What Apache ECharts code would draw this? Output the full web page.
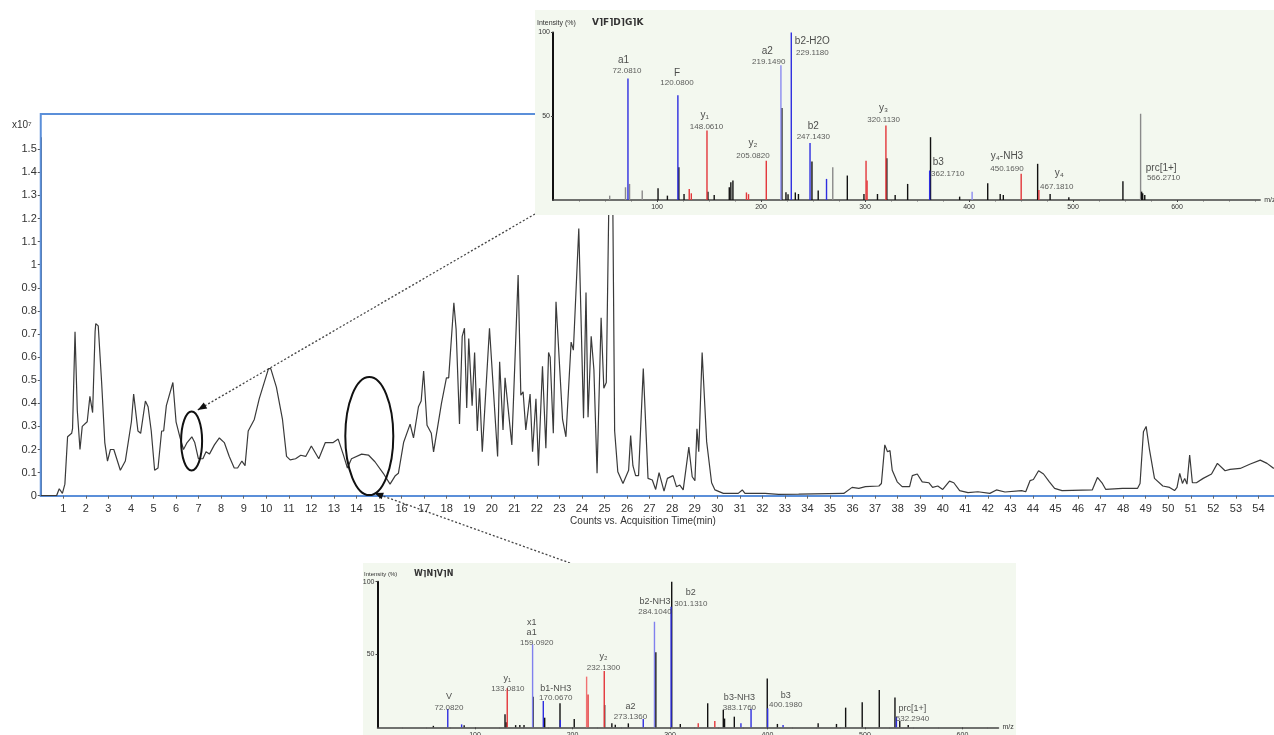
<!DOCTYPE html>
<html><head><meta charset="utf-8">
<script src="https://cdn.jsdelivr.net/npm/echarts@6/dist/echarts.min.js"></script>
<style>html,body{margin:0;padding:0;background:#fff}#c{width:1274px;height:735px}</style>
</head><body><div id="c"></div>
<script>
// ---------- main chromatogram (x10^7 counts vs minutes) ----------
const retentionTime = [0.00,0.70,0.82,0.96,1.07,1.19,1.37,1.41,1.52,1.62,1.74,1.84,2.06,2.18,2.30,2.41,2.44,2.55,2.70,2.84,2.96,3.09,3.24,3.53,3.75,4.02,4.12,4.20,4.31,4.43,4.64,4.76,4.90,5.05,5.20,5.36,5.45,5.57,5.86,6.00,6.18,6.33,6.49,6.70,6.83,6.99,7.19,7.33,7.48,7.70,7.92,8.14,8.36,8.58,8.73,8.92,9.06,9.20,9.47,9.69,10.10,10.20,10.45,10.72,10.90,11.06,11.30,11.53,11.75,12.00,12.33,12.62,12.97,13.19,13.41,13.60,13.78,14.23,14.53,14.82,15.19,15.49,15.71,15.86,16.09,16.38,16.53,16.75,16.87,16.98,17.13,17.32,17.42,17.77,17.99,18.09,18.32,18.42,18.57,18.69,18.79,18.89,18.98,19.13,19.24,19.36,19.46,19.58,19.90,20.26,20.35,20.50,20.59,20.89,21.17,21.29,21.39,21.51,21.70,21.81,21.96,22.07,22.25,22.40,22.52,22.59,22.73,22.85,23.14,23.29,23.52,23.62,23.86,24.07,24.18,24.27,24.41,24.53,24.67,24.85,24.97,25.08,25.19,25.28,25.37,25.45,25.59,25.82,26.07,26.16,26.26,26.38,26.51,26.72,26.93,27.12,27.27,27.42,27.49,27.64,27.79,28.04,28.19,28.34,28.49,28.74,28.89,29.01,29.10,29.18,29.33,29.53,29.75,29.90,30.27,30.93,31.11,31.23,32.12,32.72,33.61,35.61,35.98,36.28,36.57,37.17,37.28,37.43,37.55,37.66,37.76,37.98,38.20,38.53,38.65,38.87,39.09,39.39,39.55,39.78,40.00,40.30,40.49,40.75,41.12,41.56,42.09,42.38,42.76,43.50,43.68,43.87,44.02,44.25,44.47,44.72,44.96,45.29,46.63,46.86,47.08,47.23,47.97,48.64,48.75,48.90,49.02,49.17,49.39,49.76,50.06,50.28,50.39,50.51,50.63,50.73,50.83,50.95,51.07,51.25,51.55,51.92,52.18,52.52,52.74,53.19,53.64,54.08,54.38,54.68];
const intensity = [0.000,0.000,0.030,0.010,0.050,0.255,0.270,0.290,0.710,0.370,0.200,0.300,0.320,0.430,0.360,0.710,0.745,0.735,0.490,0.230,0.150,0.200,0.200,0.110,0.150,0.320,0.440,0.440,0.280,0.270,0.410,0.385,0.280,0.110,0.120,0.280,0.280,0.390,0.490,0.320,0.250,0.200,0.230,0.255,0.230,0.160,0.160,0.190,0.180,0.220,0.250,0.230,0.170,0.120,0.120,0.150,0.130,0.280,0.330,0.420,0.550,0.550,0.470,0.330,0.170,0.155,0.160,0.175,0.170,0.215,0.160,0.230,0.230,0.245,0.180,0.120,0.160,0.180,0.176,0.147,0.097,0.050,0.085,0.097,0.230,0.310,0.250,0.385,0.410,0.540,0.305,0.270,0.190,0.400,0.510,0.510,0.835,0.720,0.310,0.690,0.725,0.380,0.680,0.390,0.620,0.280,0.465,0.190,0.725,0.170,0.580,0.285,0.510,0.220,0.955,0.435,0.450,0.285,0.440,0.190,0.420,0.130,0.560,0.205,0.620,0.600,0.270,0.840,0.330,0.255,0.665,0.630,1.157,0.335,0.880,0.340,0.690,0.545,0.097,0.770,0.465,0.490,1.250,1.520,1.250,0.280,0.104,0.053,0.110,0.260,0.130,0.087,0.087,0.550,0.075,0.068,0.027,0.100,0.097,0.020,0.075,0.087,0.039,0.046,0.025,0.210,0.082,0.065,0.290,0.190,0.620,0.234,0.056,0.025,0.010,0.010,0.025,0.010,0.010,0.006,0.007,0.010,0.036,0.032,0.039,0.042,0.053,0.220,0.190,0.195,0.110,0.060,0.039,0.039,0.087,0.094,0.060,0.056,0.036,0.042,0.027,0.063,0.056,0.022,0.013,0.017,0.010,0.025,0.016,0.022,0.017,0.065,0.070,0.108,0.094,0.061,0.032,0.022,0.025,0.079,0.053,0.027,0.032,0.032,0.053,0.277,0.300,0.198,0.075,0.042,0.036,0.022,0.036,0.097,0.053,0.075,0.050,0.176,0.056,0.056,0.075,0.094,0.140,0.108,0.114,0.118,0.137,0.154,0.140,0.118];
const mainYTicks = [0,0.1,0.2,0.3,0.4,0.5,0.6,0.7,0.8,0.9,1,1.1,1.2,1.3,1.4,1.5];

// ---------- top inset spectrum (VFDGK) ----------
const topBlueMz   = [72.08,120.08,229.118,247.143,263,362.171];
const topBluePct  = [72.5,62.5,100,34,12.6,17.6];
const topLavMz    = [219.149,403];
const topLavPct   = [80.4,5];
const topRedMz    = [131,133,148.061,186,188,205.082,301,302,320.113,450.169,467.181];
const topRedPct   = [6.6,4,41.5,4.5,3.5,23.5,23.5,11.6,44.5,15.6,6];
const topBlackMz  = [101,110,121,126,149,155,169.5,171,173,220.1,224,226,233,236,249,255,283,299,312,321,329,341,363,391,418,430,433,466,478,496,548,566,567,569];
const topBlackPct = [7,2.6,19.6,3.6,5,3,7.6,10.6,11.6,55,4.6,3.5,4.5,3.6,23,5.6,14.6,3.6,3.6,25,3,9.6,37.5,2,10,3.6,3,21.6,3.6,1.6,11.2,5,4,3];
const topGrayMz   = [54.5,69.7,73.6,85.8,269,565];
const topGrayPct  = [2.6,7.6,9.6,5.6,19.6,51.5];
const topIonText  = ['a1','F','y₁','y₂','a2','b2-H2O','b2','y₃','b3','y₄-NH3','y₄','prc[1+]'];
const topIonMz    = [67.8,119.2,145.9,192.3,206.1,249.4,250.3,317.9,370.4,436.5,486.7,584.8];
const topIonPct   = [83.6,75.8,50.7,34.0,89.1,94.5,43.8,54.7,22.3,25.9,15.9,18.9];
const topValText  = ['72.0810','120.0800','148.0610','205.0820','219.1490','229.1180','247.1430','320.1130','362.1710','450.1690','467.1810','566.2710'];
const topValMz    = [71.2,119.2,147.6,192.3,207.4,249.4,250.3,317.9,379.5,436.5,484.4,587.1];
const topValPct   = [77.0,69.7,43.6,26.3,82.6,87.9,37.8,47.8,15.9,18.9,7.9,13.0];

// ---------- bottom inset spectrum (WNVN) ----------
const botBlueMz   = [72.082,86.3,170.067,187.5,272.6,301.131,372.8,383.176,400.198,416,532.294];
const botBluePct  = [12.6,2,18,5,5.7,82.8,2.7,12.6,13,1.5,7];
const botLavMz    = [159.092,284.104];
const botLavPct   = [57,72.5];
const botRedMz    = [133.081,216,232.6,329,346];
const botRedPct   = [26.8,22.6,38.7,2.7,4.3];
const botPinkMz   = [214.5];
const botPinkPct  = [34.8];
const botBlackMz  = [57.3,88.9,130.8,132,141.7,146,150.3,159.6,171.5,187.2,201.8,233,240.4,243.9,257.3,285.5,301.8,310.6,338.7,354.7,356,366,399.8,410.2,452,470.8,480.2,497.2,514.7,530.8,535.7,544.4];
const botBlackPct = [1,1.4,8.9,3.5,1.5,1.5,1.5,21,6.6,16.5,5.7,15.3,2.7,1.8,2.7,51.5,100,2.3,16.5,12,6,7.3,33.6,2.3,2.7,2.3,13.5,17.2,25.6,20.4,4.5,1.6];
const botIonText  = ['V','y₁','x1','a1','b1-NH3','y₂','a2','b2-NH3','b2','b3-NH3','b3','prc[1+]'];
const botIonMz    = [73.3,133.0,158.1,158.1,182.8,231.8,259.5,284.6,321.4,371.2,418.8,548.7];
const botIonPct   = [21.0,33.8,71.9,65.1,26.3,48.4,14.2,86.3,92.5,20.5,21.7,12.6];
const botValText  = ['72.0820','133.0810','159.0920','170.0670','232.1300','273.1360','284.1040','301.1310','383.1760','400.1980','532.2940'];
const botValMz    = [73.3,133.7,163.4,182.8,231.8,259.5,284.6,321.4,371.2,418.8,548.7];
const botValPct   = [13.7,26.3,58.2,20.1,40.7,7.5,79.5,84.9,13.7,15.5,5.8];
const insetTicks  = [100,200,300,400,500,600];

const FONT = 'Liberation Sans, Arial, sans-serif';
const zip = (a, b) => a.map((v, i) => [v, b[i]]);

function bars(mz, pct, color, idx) {
  return { type: 'bar', xAxisIndex: idx, yAxisIndex: idx, data: zip(mz, pct),
    barWidth: 1.4, barGap: '-100%', itemStyle: { color }, zlevel: 1, z: 6, silent: true };
}
function texts(txt, mz, pct, size, color, idx) {
  return { type: 'scatter', xAxisIndex: idx, yAxisIndex: idx, symbolSize: 1,
    itemStyle: { color: 'rgba(0,0,0,0)' }, zlevel: 1, z: 8, silent: true,
    data: txt.map((t, i) => ({ name: t, value: [mz[i], pct[i]] })),
    label: { show: true, position: 'inside', formatter: p => p.name,
      fontSize: size, color, fontFamily: FONT } };
}
function insetX(idx, max) {
  return { type: 'value', gridIndex: idx, min: 0, max, interval: 100, zlevel: 1, z: 5,
    axisLine: { show: true, lineStyle: { color: '#444', width: 1.5 } },
    axisTick: { show: true, length: 2, lineStyle: { color: '#444' }, customValues: insetTicks },
    minorTick: { show: true, splitNumber: 4, length: 1.5, lineStyle: { color: '#666' } },
    axisLabel: { fontSize: 7, color: '#333', margin: 4, fontFamily: FONT, customValues: insetTicks },
    splitLine: { show: false }, minorSplitLine: { show: false },
    name: 'm/z', nameLocation: 'end', nameGap: 4,
    nameTextStyle: { fontSize: 7, color: '#333', fontFamily: FONT, verticalAlign: 'middle' } };
}
function insetY(idx) {
  return { type: 'value', gridIndex: idx, min: 0, max: 100, interval: 50, zlevel: 1, z: 5,
    axisLine: { show: true, lineStyle: { color: '#111', width: 2 } },
    axisTick: { show: true, length: 2, lineStyle: { color: '#444' } },
    axisLabel: { fontSize: 7, color: '#333', margin: 3, fontFamily: FONT, showMinLabel: false },
    splitLine: { show: false } };
}

const chart = echarts.init(document.getElementById('c'), null, { renderer: 'canvas' });
chart.setOption({
  animation: false,
  backgroundColor: '#fff',
  grid: [
    { left: 40.75, right: 0, top: 137.65, bottom: 239.3, outerBoundsMode: 'none' },
    { left: 553, top: 32.5, width: 707.2, height: 167.5, outerBoundsMode: 'none' },
    { left: 377.5, top: 581.7, width: 621, height: 145.6, outerBoundsMode: 'none' }
  ],
  xAxis: [
    { type: 'value', gridIndex: 0, min: 0, max: 54.69, interval: 1, offset: 1,
      axisLine: { show: true, lineStyle: { color: '#5b8fd9', width: 2 } },
      axisTick: { show: true, length: 3, lineStyle: { color: '#666' } },
      axisLabel: { fontSize: 11, color: '#333', margin: 7, fontFamily: FONT, showMinLabel: false, showMaxLabel: false },
      splitLine: { show: false } },
    insetX(1, 680),
    insetX(2, 637)
  ],
  yAxis: [
    { type: 'value', gridIndex: 0, min: 0, max: 1.55, interval: 0.1,
      axisLine: { show: true, lineStyle: { color: '#555', width: 1 } },
      axisTick: { show: true, length: 3, lineStyle: { color: '#555' }, customValues: mainYTicks },
      axisLabel: { fontSize: 11, color: '#333', margin: 4, fontFamily: FONT, customValues: mainYTicks },
      splitLine: { show: false } },
    insetY(1),
    insetY(2)
  ],
  series: [
    { type: 'line', xAxisIndex: 0, yAxisIndex: 0, data: zip(retentionTime, intensity),
      symbol: 'none', lineStyle: { color: '#3a3a3a', width: 1.2 }, silent: true, z: 2 },
    bars(topGrayMz, topGrayPct, '#8a8a8a', 1),
    bars(topBlackMz, topBlackPct, '#111111', 1),
    bars(topLavMz, topLavPct, '#8c8cf0', 1),
    bars(topRedMz, topRedPct, '#e3363a', 1),
    bars(topBlueMz, topBluePct, '#2e2ee0', 1),
    texts(topIonText, topIonMz, topIonPct, 10, '#222', 1),
    texts(topValText, topValMz, topValPct, 8, '#333', 1),
    bars(botBlackMz, botBlackPct, '#111111', 2),
    bars(botPinkMz, botPinkPct, '#f07272', 2),
    bars(botRedMz, botRedPct, '#e3363a', 2),
    bars(botLavMz, botLavPct, '#8080ee', 2),
    bars(botBlueMz, botBluePct, '#2e2ee0', 2),
    texts(botIonText, botIonMz, botIonPct, 9, '#222', 2),
    texts(botValText, botValMz, botValPct, 8, '#333', 2)
  ]
});

// annotation shapes anchored to data coordinates
const px = (t, v) => chart.convertToPixel({ gridIndex: 0 }, [t, v]);
const e1 = px(6.69, 0.237), e2 = px(14.57, 0.258);
const tip1 = px(6.96, 0.371), tip2 = px(14.79, 0.012);
const start1 = [535, 214], start2 = [570, 563];
function arrowHead(tip, from) {
  const dx = from[0] - tip[0], dy = from[1] - tip[1], L = Math.hypot(dx, dy);
  const ux = dx / L, uy = dy / L, len = 9, w = 3.5;
  const bx = tip[0] + ux * len, by = tip[1] + uy * len;
  return [[tip[0], tip[1]], [bx - uy * w, by + ux * w], [bx + uy * w, by - ux * w]];
}
chart.setOption({
  graphic: [
    { type: 'polyline', zlevel: 0, z: 1, silent: true,
      shape: { points: [[536, 114], [40.75, 114], [40.75, 497]] },
      style: { stroke: '#5b8fd9', lineWidth: 2, fill: null } },
    { type: 'text', zlevel: 0, left: 12, top: 120, silent: true,
      style: { text: 'x10⁷', fontSize: 10, fill: '#333', fontFamily: FONT } },
    { type: 'text', zlevel: 0, x: 643, y: 521, silent: true,
      style: { text: 'Counts vs. Acquisition Time(min)', fontSize: 10, fill: '#333', fontFamily: FONT,
        align: 'center', verticalAlign: 'middle' } },
    { type: 'ellipse', zlevel: 0, z: 10, silent: true,
      shape: { cx: e1[0], cy: e1[1], rx: 10.5, ry: 29.5 }, style: { stroke: '#111', lineWidth: 2, fill: null } },
    { type: 'ellipse', zlevel: 0, z: 10, silent: true,
      shape: { cx: e2[0], cy: e2[1], rx: 24, ry: 59 }, style: { stroke: '#111', lineWidth: 2, fill: null } },
    { type: 'line', zlevel: 0, z: 10, silent: true,
      shape: { x1: start1[0], y1: start1[1], x2: tip1[0], y2: tip1[1] },
      style: { stroke: '#444', lineWidth: 1.3, lineDash: [2, 2] } },
    { type: 'polygon', zlevel: 0, z: 10, silent: true,
      shape: { points: arrowHead(tip1, start1) }, style: { fill: '#111' } },
    { type: 'line', zlevel: 0, z: 10, silent: true,
      shape: { x1: start2[0], y1: start2[1], x2: tip2[0], y2: tip2[1] },
      style: { stroke: '#444', lineWidth: 1.3, lineDash: [2, 2] } },
    { type: 'polygon', zlevel: 0, z: 10, silent: true,
      shape: { points: arrowHead(tip2, start2) }, style: { fill: '#111' } },
    // inset backgrounds
    { type: 'rect', zlevel: 1, z: 0, silent: true,
      shape: { x: 535, y: 10, width: 745, height: 205 }, style: { fill: '#f3f8ef' } },
    { type: 'rect', zlevel: 1, z: 0, silent: true,
      shape: { x: 363, y: 563, width: 653, height: 180 }, style: { fill: '#f3f8ef' } },
    { type: 'text', zlevel: 1, z: 9, x: 537, y: 23, silent: true,
      style: { text: 'Intensity (%)', fontSize: 7, fill: '#333', fontFamily: FONT, verticalAlign: 'middle' } },
    { type: 'text', zlevel: 1, z: 9, x: 592, y: 23, silent: true,
      style: { text: 'V⌉F⌉D⌉G⌉K', fontSize: 9, fontWeight: 'bold', fill: '#333', fontFamily: 'DejaVu Sans', verticalAlign: 'middle' } },
    { type: 'text', zlevel: 1, z: 9, x: 364, y: 574, silent: true,
      style: { text: 'Intensity (%)', fontSize: 6, fill: '#333', fontFamily: FONT, verticalAlign: 'middle' } },
    { type: 'text', zlevel: 1, z: 9, x: 414, y: 574, silent: true,
      style: { text: 'W⌉N⌉V⌉N', fontSize: 8, fontWeight: 'bold', fill: '#333', fontFamily: 'DejaVu Sans', verticalAlign: 'middle' } }
  ]
});
</script>
</body></html>
